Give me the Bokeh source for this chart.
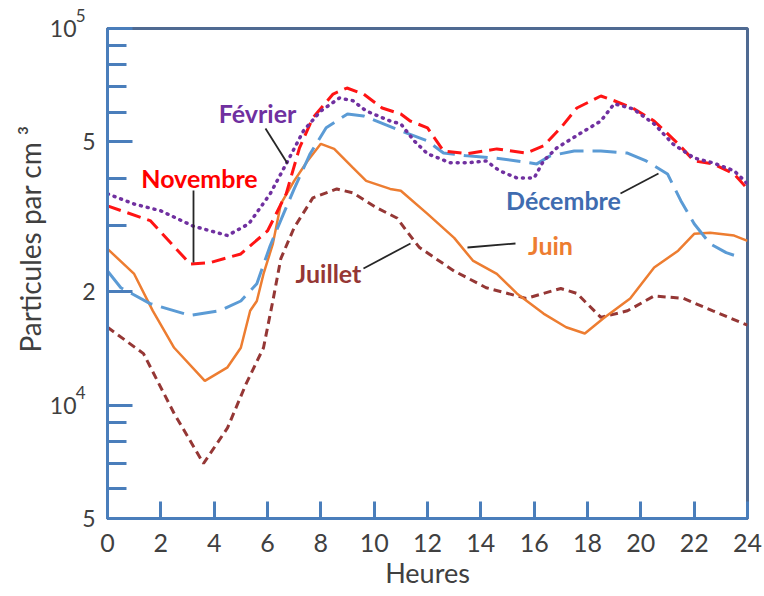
import math
from bokeh.plotting import figure
from bokeh.models import Range1d, FixedTicker, Label, Title, LogAxis
from bokeh.embed import file_html
from bokeh.resources import INLINE

# ---------------- data (particles per cm^3, hours) ----------------
x_ticks = [0, 2, 4, 6, 8, 10, 12, 14, 16, 18, 20, 22, 24]
y_ticks = [5000, 10000, 20000, 50000, 100000]
y_tick_digits = ["5", "", "2", "5", ""]          # plain mantissa labels
pow_ticks = [10000, 100000]                       # powers of ten
pow_base = ["10", "10"]
pow_exp = ["4", "5"]
y_minor = [6000, 7000, 8000, 9000, 30000, 40000, 60000, 70000, 80000, 90000]

h_nov = [0, 1.6, 3.1, 3.85, 5.0, 6.0, 6.7, 7.2, 7.7, 8.46, 8.98, 9.6, 10.3, 11.0, 11.35,
         12.0, 12.6, 13.5, 14.6, 15.7, 16.35, 17.0, 17.6, 18.5, 19.0, 19.7, 20.5, 21.4,
         22.0, 22.7, 23.5, 24]
novembre = [33800, 30900, 23700, 23900, 25200, 29000, 36400, 48200, 57900, 67000, 69500,
            67000, 61500, 59300, 56800, 54500, 47300, 46500, 47900, 46700, 48800, 54500,
            61500, 66200, 64300, 61500, 56800, 49400, 44500, 43700, 41100, 37500]

h_feb = [0, 1, 2, 3.2, 4.5, 5.3, 6.1, 6.7, 7.35, 8.0, 8.7, 9.2, 9.7, 10.6, 11.0, 11.5,
         12.0, 12.85, 13.5, 14.2, 14.7, 15.35, 16.0, 16.35, 16.85, 17.7, 18.5, 19.0, 19.7,
         20.5, 21.2, 22.0, 22.7, 23.5, 24]
fevrier = [36400, 34200, 32800, 29900, 28200, 30300, 36400, 43700, 53500, 60400, 65400,
           64300, 60400, 56800, 55800, 50300, 46500, 44000, 44000, 44500, 41900, 40100,
           40100, 44500, 48200, 52500, 56800, 63100, 61200, 55800, 49400, 45300, 44000,
           41900, 38700]

h_dec = [0, 0.5, 1.6, 3.1, 4.2, 5.0, 5.6, 6.1, 6.6, 7.0, 7.6, 8.2, 9.0, 9.6, 10.35, 11.2,
         12.0, 12.6, 13.5, 14.5, 15.35, 16.1, 16.6, 17.5, 18.5, 19.5, 20.2, 21.0, 21.5,
         22.0, 22.6, 23.2, 23.8]
decembre = [22700, 20500, 18600, 17300, 17800, 18900, 21000, 26500, 32200, 37500, 46500,
            54500, 59300, 58600, 55800, 52800, 50300, 46700, 45900, 45300, 44500, 43700,
            45900, 47300, 47300, 46700, 44500, 41100, 34900, 30300, 26800, 25400, 24600]

h_jun = [0, 1, 1.7, 2.5, 3.65, 4.5, 5.0, 5.35, 5.6, 5.85, 6.2, 6.5, 7.0, 7.5, 8.0, 8.5,
         9.2, 9.7, 10.6, 11.0, 12.0, 13.0, 13.7, 14.6, 15.35, 16.35, 17.2, 17.9, 18.6,
         19.6, 20.5, 21.4, 22.0, 22.6, 23.5, 24]
juin = [26000, 22300, 17800, 14200, 11600, 12600, 14200, 17800, 18900, 22300, 26800,
        34200, 39400, 44500, 49400, 47900, 42700, 39400, 37500, 37100, 32200, 27800,
        24200, 22300, 19800, 17500, 16100, 15500, 17000, 19200, 23200, 25700, 28500,
        28700, 28200, 27300]

h_jul = [0, 1.35, 2.5, 3.6, 4.5, 5.2, 5.85, 6.2, 6.5, 7.0, 7.7, 8.6, 9.2, 10.1, 10.85,
         11.5, 11.7, 13.0, 14.2, 15.7, 16.35, 17.0, 17.6, 18.5, 19.5, 20.5, 21.6, 22.7, 24]
juillet = [16100, 13700, 9500, 7000, 8700, 11400, 14200, 18900, 24500, 29600, 35500,
           37500, 36600, 33400, 31400, 27300, 26200, 22700, 20500, 19200, 19800, 20400,
           19800, 17100, 17800, 19500, 19200, 17800, 16300]

# ---------------- layout helpers (pixel -> data) ----------------
FL, FT, FW, FH = 107, 28, 640, 490
Y0, Y1 = 5000, 100000


def hx(px):
    return (px - FL) / FW * 24


def vy(py):
    return Y0 * 10 ** ((FT + FH - py) / FH * math.log10(Y1 / Y0))


FONT = "Lato"
TXT = "#404040"
AX_BLUE = "#4A7EBB"

p = figure(frame_width=FW, frame_height=FH, x_range=Range1d(0, 24),
           y_range=Range1d(Y0, Y1), y_axis_type="log",
           output_backend="svg", toolbar_location=None,
           min_border_left=FL, min_border_right=764 - FL - FW,
           min_border_top=FT, min_border_bottom=596 - FT - FH,
           background_fill_color="white", border_fill_color="white")
p.xgrid.visible = False
p.ygrid.visible = False
p.outline_line_color = "#4F6A92"
p.outline_line_width = 3
p.outline_line_alpha = 1

xa = p.xaxis[0]
xa.ticker = FixedTicker(ticks=x_ticks, minor_ticks=[])
xa.axis_line_color = AX_BLUE
xa.axis_line_width = 3
xa.major_tick_in = 17
xa.major_tick_out = 0
xa.minor_tick_in = 0
xa.minor_tick_out = 0
xa.major_tick_line_color = AX_BLUE
xa.major_tick_line_width = 3
xa.major_label_text_font = FONT
xa.major_label_text_font_size = "25px"
xa.major_label_text_color = TXT
xa.major_label_standoff = 15
xa.axis_label = "Heures"
xa.axis_label_text_font = FONT
xa.axis_label_text_font_size = "27px"
xa.axis_label_text_font_style = "normal"
xa.axis_label_text_color = TXT
xa.axis_label_standoff = 1

# main y axis: line, ticks and plain labels
ya = p.yaxis[0]
ya.ticker = FixedTicker(ticks=y_ticks, minor_ticks=y_minor)
ya.major_label_overrides = {t: l for t, l in zip(y_ticks, y_tick_digits)}
ya.axis_line_color = AX_BLUE
ya.axis_line_width = 3
ya.major_tick_in = 25
ya.major_tick_out = 0
ya.minor_tick_in = 19
ya.minor_tick_out = 0
ya.major_tick_line_color = AX_BLUE
ya.major_tick_line_width = 3
ya.minor_tick_line_color = AX_BLUE
ya.minor_tick_line_width = 3
ya.major_label_text_font = FONT
ya.major_label_text_font_size = "23px"
ya.major_label_text_color = TXT
ya.major_label_standoff = 12


def label_axis(labels, size, standoff):
    ax = LogAxis(ticker=FixedTicker(ticks=pow_ticks, minor_ticks=[]),
                 major_label_overrides={t: l for t, l in zip(pow_ticks, labels)},
                 axis_line_color=None, major_tick_line_color=None,
                 minor_tick_line_color=None, major_tick_in=0, major_tick_out=0,
                 minor_tick_in=0, minor_tick_out=0,
                 major_label_text_font=FONT, major_label_text_font_size=size,
                 major_label_text_color=TXT, major_label_standoff=standoff)
    p.add_layout(ax, "left")
    return ax


# exponents (raised via an empty second line), then the "10" bases
label_axis([e + "\n\u00a0" for e in pow_exp], "17px", -6)
label_axis(pow_base, "23px", -4)

# y axis title
p.add_layout(Title(text="Particules par cm ³", align="left", offset=166,
                   text_font=FONT, text_font_size="28px", text_font_style="normal",
                   text_color=TXT, standoff=0), "left")

# ---------------- series ----------------
p.line(h_jul, juillet, line_color="#953735", line_width=3, line_dash="8 5")
p.line(h_jun, juin, line_color="#ED7D31", line_width=2.5)
p.line(h_dec, decembre, line_color="#5B9BD5", line_width=3, line_dash="24 9")
p.line(h_nov, novembre, line_color="#FF1414", line_width=3, line_dash="14 7")
p.line(h_feb, fevrier, line_color="#7030A0", line_width=3.5, line_dash="1 6",
       line_cap="round")

# ---------------- annotations ----------------
notes = [
    ("Février", "#7030A0", (257, 112), (265, 128), (287, 163)),
    ("Novembre", "#FF0000", (199, 177), (193, 190), (193, 262)),
    ("Décembre", "#3F6CB0", (563, 199), (620, 193), (658, 173)),
    ("Juin", "#ED7D31", (550, 244), (515, 243), (467, 247)),
    ("Juillet", "#953735", (328, 272), (363, 268), (410, 243)),
]
for text, col, (tx, ty), (ax0, ay0), (ax1, ay1) in notes:
    p.segment(x0=[hx(ax0)], y0=[vy(ay0)], x1=[hx(ax1)], y1=[vy(ay1)],
              line_color="#262626", line_width=1.8)
    p.add_layout(Label(x=hx(tx), y=vy(ty), text=text, text_color=col,
                       text_font=FONT, text_font_size="25px", text_font_style="bold",
                       text_align="center", text_baseline="middle"))

open("out.html", "w").write(file_html(p, INLINE))
